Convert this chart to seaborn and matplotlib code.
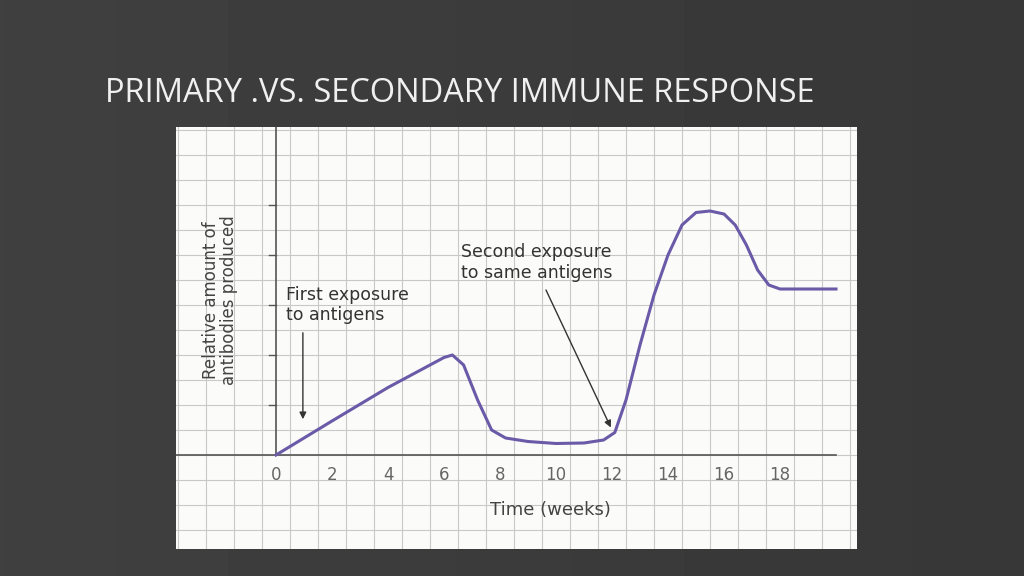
import matplotlib
matplotlib.use("Agg")
import matplotlib.pyplot as plt
import seaborn as sns
import numpy as np
import pandas as pd

weeks = [0, 2, 4, 6, 6.3, 6.7, 7.2, 7.7, 8.2, 9, 10, 11, 11.7, 12.1, 12.5, 13, 13.5, 14, 14.5, 15, 15.5, 16, 16.4, 16.8, 17.2, 17.6, 18, 19, 20]
antibodies = [0, 0.68, 1.35, 1.95, 2.0, 1.8, 1.1, 0.5, 0.34, 0.27, 0.23, 0.24, 0.3, 0.45, 1.1, 2.2, 3.2, 4.0, 4.6, 4.85, 4.88, 4.82, 4.6, 4.2, 3.7, 3.4, 3.32, 3.32, 3.32]
xticks = [0, 2, 4, 6, 8, 10, 12, 14, 16, 18]
title = "PRIMARY .VS. SECONDARY IMMUNE RESPONSE"

fig = plt.figure(figsize=(10.24, 5.76), dpi=100)
bg = fig.add_axes([0, 0, 1, 1])
grad = np.linspace(0, 1, 256)[None, :] * 0.35
bg.imshow(0.25 - grad * 0.1, cmap="gray", vmin=0, vmax=1, aspect="auto", extent=[0, 1, 0, 1])
bg.axis("off")
fig.text(105/1024, 1 - 93/576, title, color="#f0f0f0", fontsize=23.5, va="center", family="Open Sans")

ax = fig.add_axes([176/1024, 1 - 549/576, (857-176)/1024, (549-127)/576])
ax.set_facecolor("#fbfbf9")
x0, x1 = (176-276)/28, (857-276)/28
y0, y1 = (455-549)/50, (455-127)/50
ax.set_xlim(x0, x1); ax.set_ylim(y0, y1)
for gx in np.arange(np.ceil(x0*2)/2, x1, 1):
    ax.axvline(gx, color="#c8c8c8", lw=0.8, zorder=0)
for gy in np.arange(np.ceil(y0*2)/2, y1, 0.5):
    ax.axhline(gy, color="#c8c8c8", lw=0.8, zorder=0)
ax.plot([0, 0], [0, y1], color="#555", lw=1.2)
ax.plot([x0, 20], [0, 0], color="#555", lw=1.2)
for v in [1, 2, 3, 4, 5]:
    ax.plot([-0.25, 0], [v, v], color="#555", lw=1)
df = pd.DataFrame({"w": weeks, "a": antibodies})
sns.lineplot(data=df, x="w", y="a", ax=ax, color="#6a5aa8", lw=2.2, sort=False)
for t in xticks:
    ax.text(t, -0.4, str(t), ha="center", va="center", color="#666", fontsize=12)
ax.text(9.8, -1.1, "Time (weeks)", ha="center", va="center", color="#444", fontsize=13)
ax.text(-2.0, 3.1, "Relative amount of\nantibodies produced", rotation=90, ha="center", va="center", color="#444", fontsize=12, linespacing=1.0)
ax.text(0.35, 3.0, "First exposure\nto antigens", ha="left", va="center", color="#333", fontsize=12.5)
ax.text(6.6, 3.85, "Second exposure\nto same antigens", ha="left", va="center", color="#333", fontsize=12.5)
ax.annotate("", xy=(0.96, 0.66), xytext=(0.96, 2.5), arrowprops=dict(arrowstyle="-|>", color="#333", lw=1))
ax.annotate("", xy=(12.0, 0.5), xytext=(9.6, 3.35), arrowprops=dict(arrowstyle="-|>", color="#333", lw=1))
ax.set_xticks([]); ax.set_yticks([]); ax.set_xlabel(""); ax.set_ylabel("")
for s in ax.spines.values():
    s.set_visible(False)
fig.savefig("out.png", dpi=100)
